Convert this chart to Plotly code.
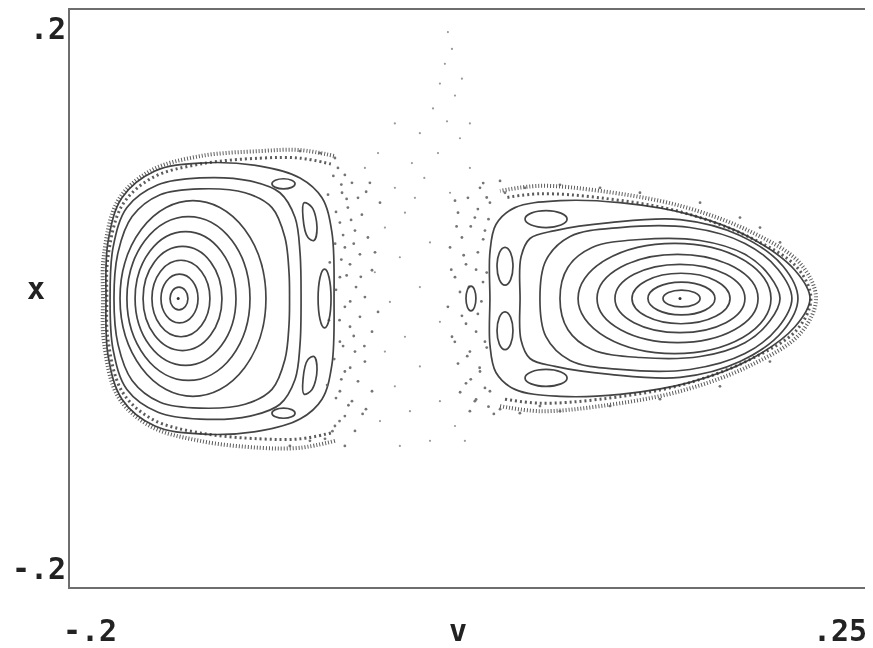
import plotly.graph_objects as go

# ---------------- data (v, x) ----------------
V_RANGE = [-0.2, 0.25]
X_RANGE = [-0.2, 0.2]
xtick_text = ['-.2', '.25']
ytick_text = ['.2', '-.2']
x_title = 'v'
y_title = 'x'

# island centres
centre_v = [-0.139, 0.144]
centre_x = [0.0, 0.0]

# left island: inner invariant curves (v min, v max, x half-height)
left_ring_vmin = [-0.1436, -0.1487, -0.1538, -0.1588, -0.1633, -0.1679, -0.1718]
left_ring_vmax = [-0.1335, -0.1278, -0.1211, -0.1143, -0.1064, -0.0985, -0.0895]
left_ring_xh = [0.0079, 0.0169, 0.0265, 0.0361, 0.0464, 0.0568, 0.0678]

# right island: inner invariant curves
right_ring_vmin = [0.1344, 0.1259, 0.1169, 0.1073, 0.0972, 0.0865]
right_ring_vmax = [0.1553, 0.1637, 0.1722, 0.1806, 0.1880, 0.1953]
right_ring_xh = [0.0058, 0.0114, 0.0175, 0.0237, 0.0306, 0.0382]

# left island outer curves
L8_v = [-0.1752, -0.1729, -0.1650, -0.1492, -0.1267, -0.1013, -0.0861, -0.0788, -0.0765, -0.0762,
        -0.0765, -0.0788, -0.0861, -0.1013, -0.1267, -0.1492, -0.1650, -0.1729, -0.1752]
L8_x = [0.0, 0.0320, 0.0568, 0.0719, 0.0760, 0.0733, 0.0630, 0.0423, 0.0182, 0.0,
        -0.0182, -0.0423, -0.0630, -0.0733, -0.0760, -0.0719, -0.0568, -0.0320, 0.0]
L9_v = [-0.1774, -0.1757, -0.1679, -0.1504, -0.1267, -0.0985, -0.0816, -0.0731, -0.0703, -0.0697,
        -0.0703, -0.0731, -0.0816, -0.0985, -0.1267, -0.1504, -0.1679, -0.1757, -0.1774]
L9_x = [0.0, 0.0354, 0.0630, 0.0788, 0.0836, 0.0815, 0.0733, 0.0561, 0.0320, 0.0,
        -0.0320, -0.0561, -0.0733, -0.0815, -0.0836, -0.0788, -0.0630, -0.0354, 0.0]
L10_v = [-0.1797, -0.1786, -0.1707, -0.1521, -0.1267, -0.0929, -0.0703, -0.0579, -0.0523, -0.0511,
         -0.0523, -0.0579, -0.0703, -0.0929, -0.1267, -0.1521, -0.1707, -0.1786, -0.1797]
L10_x = [0.0, 0.0389, 0.0698, 0.0884, 0.0939, 0.0918, 0.0836, 0.0698, 0.0458, 0.0,
         -0.0458, -0.0698, -0.0836, -0.0918, -0.0939, -0.0884, -0.0698, -0.0389, 0.0]

# right island outer curves
R7_v = [0.0763, 0.0808, 0.0944, 0.1214, 0.1553, 0.1806, 0.1947, 0.2004,
        0.1947, 0.1806, 0.1553, 0.1214, 0.0944, 0.0808, 0.0763]
R7_x = [0.0, 0.0217, 0.0354, 0.0409, 0.0402, 0.0306, 0.0155, 0.0,
        -0.0155, -0.0306, -0.0402, -0.0409, -0.0354, -0.0217, 0.0]
R8_v = [0.0650, 0.0684, 0.0820, 0.1101, 0.1496, 0.1806, 0.1992, 0.2071,
        0.1992, 0.1806, 0.1496, 0.1101, 0.0820, 0.0684, 0.0650]
R8_x = [0.0, 0.0265, 0.0430, 0.0492, 0.0492, 0.0382, 0.0203, 0.0,
        -0.0203, -0.0382, -0.0492, -0.0492, -0.0430, -0.0265, 0.0]
R9_v = [0.0538, 0.0543, 0.0594, 0.0735, 0.1045, 0.1440, 0.1778, 0.2021, 0.2105,
        0.2021, 0.1778, 0.1440, 0.1045, 0.0735, 0.0594, 0.0543, 0.0538]
R9_x = [0.0, 0.0286, 0.0416, 0.0471, 0.0526, 0.0547, 0.0437, 0.0224, 0.0,
        -0.0224, -0.0437, -0.0547, -0.0526, -0.0471, -0.0416, -0.0286, 0.0]
R10_v = [0.0368, 0.0368, 0.0402, 0.0509, 0.0763, 0.1101, 0.1496, 0.1835, 0.2088, 0.2173,
         0.2088, 0.1835, 0.1496, 0.1101, 0.0763, 0.0509, 0.0402, 0.0368, 0.0368]
R10_x = [0.0, 0.0320, 0.0513, 0.0630, 0.0678, 0.0664, 0.0581, 0.0423, 0.0196, 0.0,
         -0.0196, -0.0423, -0.0581, -0.0664, -0.0678, -0.0630, -0.0513, -0.0320, 0.0]

# resonance islands (ellipse bounding boxes): v0, v1, x0, x1
island_v0 = [-0.0601, -0.0861, -0.0861, 0.0408, 0.0408, 0.0566, 0.0566, 0.0233]
island_v1 = [-0.0528, -0.0731, -0.0731, 0.0498, 0.0498, 0.0803, 0.0803, 0.0289]
island_x0 = [-0.0203, 0.0760, -0.0830, 0.0093, -0.0354, 0.0492, -0.0609, -0.0086]
island_x1 = [0.0203, 0.0830, -0.0760, 0.0354, -0.0093, 0.0609, -0.0492, 0.0086]

# slanted islands on the right of the left island
isl_up_v = [-0.0680, -0.0635, -0.0607, -0.0624, -0.0658, -0.0686, -0.0680]
isl_up_x = [0.0664, 0.0630, 0.0492, 0.0402, 0.0423, 0.0561, 0.0664]
isl_dn_v = [-0.0680, -0.0635, -0.0607, -0.0624, -0.0658, -0.0686, -0.0680]
isl_dn_x = [-0.0664, -0.0630, -0.0492, -0.0402, -0.0423, -0.0561, -0.0664]

# chaotic boundary layers
band_L1_v = [-0.0506, -0.0703, -0.0929, -0.1267, -0.1549, -0.1730, -0.1809, -0.1814,
             -0.1809, -0.1730, -0.1549, -0.1267, -0.0929, -0.0703, -0.0506]
band_L1_x = [-0.0987, -0.1035, -0.1035, -0.0987, -0.0884, -0.0678, -0.0299, 0.0,
             0.0299, 0.0678, 0.0884, 0.0987, 0.1022, 0.1029, 0.0987]
band_L2_v = [-0.0529, -0.0703, -0.0929, -0.1267, -0.1538, -0.1707, -0.1786, -0.1792,
             -0.1786, -0.1707, -0.1538, -0.1267, -0.0929, -0.0703, -0.0529]
band_L2_x = [-0.0932, -0.0973, -0.0973, -0.0932, -0.0836, -0.0643, -0.0285, 0.0,
             0.0285, 0.0643, 0.0836, 0.0932, 0.0973, 0.0973, 0.0932]
band_R1_v = [0.0425, 0.0650, 0.0989, 0.1440, 0.1835, 0.2117, 0.2207,
             0.2117, 0.1835, 0.1440, 0.0989, 0.0650, 0.0425]
band_R1_x = [-0.0746, -0.0781, -0.0746, -0.0643, -0.0465, -0.0244, 0.0,
             0.0244, 0.0465, 0.0643, 0.0746, 0.0781, 0.0746]
band_R2_v = [0.0453, 0.0650, 0.0989, 0.1440, 0.1835, 0.2099, 0.2178,
             0.2099, 0.1835, 0.1440, 0.0989, 0.0650, 0.0453]
band_R2_x = [-0.0698, -0.0726, -0.0698, -0.0602, -0.0423, -0.0217, 0.0,
             0.0217, 0.0423, 0.0602, 0.0698, 0.0726, 0.0698]

# sparse chaotic points in the gap between the islands
far_v = [0.0131, 0.0154, 0.0114, 0.0086, 0.0171, 0.0047, 0.0126, -0.0027, 0.0199, 0.0075,
         -0.0072, 0.0255, -0.0002, -0.0168, 0.0143, -0.0111, -0.0224, 0.0030, -0.0140, -0.0281,
         -0.0027, -0.0196, 0.0086, -0.0111, -0.0224, -0.0027, -0.0168, 0.0086, -0.0083, -0.0252,
         0.0171, 0.0030, -0.0140, 0.0227, -0.0055, -0.0263, -0.0337, 0.0255, -0.0168, 0.0210]
far_x = [0.1847, 0.1730, 0.1627, 0.1490, 0.1407, 0.1318, 0.1228, 0.1146, 0.1111, 0.1008,
         0.0939, 0.0905, 0.0836, 0.0767, 0.0733, 0.0595, 0.0492, 0.0389, 0.0286, 0.0182,
         0.0079, -0.0024, -0.0162, -0.0265, -0.0368, -0.0471, -0.0609, -0.0712, -0.0781, -0.0850,
         -0.0884, -0.0987, -0.1022, -0.0987, 0.0698, 0.1008, 0.0905, 0.1214, 0.1214, 0.1524]

# denser chaotic points next to the islands
near_v = [-0.0489, -0.0450, -0.0410, -0.0466, -0.0376, -0.0433, -0.0354, -0.0478, -0.0393, -0.0320,
          -0.0450, -0.0365, -0.0421, -0.0297, -0.0478, -0.0387, -0.0337, -0.0450, -0.0365, -0.0421,
          -0.0297, -0.0478, -0.0393, -0.0337, -0.0450, -0.0376, -0.0478, -0.0410, -0.0331, -0.0450,
          -0.0506, -0.0393, -0.0562, -0.0450, -0.0647, -0.0760, -0.0590, -0.0703, -0.0506, -0.0309,
          -0.0252, -0.0280, -0.0263, -0.0297,
          -0.0515, -0.0470, -0.0440, -0.0500, -0.0415, -0.0460, -0.0505, -0.0400, -0.0470, -0.0440,
          -0.0500, -0.0420, -0.0480, -0.0400, -0.0460, -0.0510, -0.0420, -0.0470, -0.0500, -0.0430,
          -0.0480, -0.0520, -0.0350, -0.0330, -0.0360, -0.0340, -0.0545, -0.0550, -0.0535, -0.0540,
          0.0312, 0.0244, 0.0368, 0.0188, 0.0283, 0.0340, 0.0210, 0.0143, 0.0300, 0.0233,
          0.0171, 0.0329, 0.0199, 0.0131, 0.0300, 0.0233, 0.0154, 0.0340, 0.0255, 0.0188,
          0.0312, 0.0233, 0.0368, 0.0283, 0.0425, 0.0537, 0.0650, 0.0255, 0.0453, 0.0566,
          0.0425, 0.0171,
          0.0350, 0.0300, 0.0260, 0.0330, 0.0220, 0.0290, 0.0350, 0.0250, 0.0320, 0.0210,
          0.0290, 0.0350, 0.0240, 0.0310, 0.0260, 0.0340, 0.0200, 0.0290, 0.0360, 0.0180,
          0.0170, 0.0330, 0.0390, 0.0150, 0.0360,
          0.0763, 0.0989, 0.1214, 0.1553, 0.1778, 0.2004, 0.1891,
          0.0763, 0.1045, 0.1327, 0.1665, 0.1947]
near_x = [0.0905, 0.0857, 0.0802, 0.0733, 0.0698, 0.0630, 0.0581, 0.0526, 0.0471, 0.0423,
          0.0354, 0.0306, 0.0237, 0.0196, 0.0148, 0.0079, 0.0010, -0.0058, -0.0127, -0.0196,
          -0.0230, -0.0299, -0.0368, -0.0437, -0.0506, -0.0574, -0.0643, -0.0712, -0.0767, -0.0815,
          -0.0884, -0.0918, -0.0973, -0.1022, -0.0987, -0.1022, 0.1008, 0.1022, 0.0974, 0.0802,
          0.0664, 0.0320, -0.0093, -0.0643,
          0.0850, 0.0790, 0.0690, 0.0600, 0.0545, 0.0440, 0.0380, 0.0380, 0.0270, 0.0160,
          0.0060, -0.0020, -0.0150, -0.0260, -0.0330, -0.0420, -0.0480, -0.0560, -0.0690, -0.0740,
          -0.0850, -0.0920, -0.0800, 0.0740, 0.0150, -0.0330, 0.0720, -0.0600, 0.0250, -0.0150,
          0.0767, 0.0698, 0.0664, 0.0595, 0.0561, 0.0471, 0.0423, 0.0354, 0.0320, 0.0237,
          0.0148, 0.0114, 0.0045, -0.0058, -0.0107, -0.0175, -0.0265, -0.0299, -0.0368, -0.0451,
          -0.0506, -0.0588, -0.0643, -0.0712, -0.0767, -0.0795, -0.0746, -0.0781, 0.0733, 0.0767,
          0.0815, 0.0678,
          0.0700, 0.0620, 0.0500, 0.0410, 0.0300, 0.0200, 0.0180, 0.0080, -0.0020, -0.0120,
          -0.0230, -0.0340, -0.0400, -0.0480, -0.0560, -0.0620, -0.0650, -0.0700, -0.0750, 0.0500,
          -0.0300, 0.0800, -0.0800, 0.0200, 0.0550,
          0.0788, 0.0767, 0.0733, 0.0664, 0.0561, 0.0389, 0.0492,
          -0.0781, -0.0746, -0.0698, -0.0609, -0.0437]

# ---------------- figure ----------------
LINE = '#444444'
LW = 1.7

fig = go.Figure()

curves = [(L8_v, L8_x), (L9_v, L9_x), (L10_v, L10_x),
          (R7_v, R7_x), (R8_v, R8_x), (R9_v, R9_x), (R10_v, R10_x),
          (isl_up_v, isl_up_x), (isl_dn_v, isl_dn_x)]
for cv, cx in curves:
    fig.add_trace(go.Scatter(x=cv, y=cx, mode='lines',
                             line=dict(color=LINE, width=LW, shape='spline', smoothing=1.0),
                             hoverinfo='skip', showlegend=False))

bands = [(band_L1_v, band_L1_x, '1px,2px', 4.0), (band_L2_v, band_L2_x, '2px,3px', 3.0),
         (band_R1_v, band_R1_x, '1px,2px', 4.0), (band_R2_v, band_R2_x, '2px,3px', 3.0)]
for bv, bx, dash, w in bands:
    fig.add_trace(go.Scatter(x=bv, y=bx, mode='lines',
                             line=dict(color='#333333', width=w, dash=dash, shape='spline', smoothing=1.0),
                             opacity=0.8, hoverinfo='skip', showlegend=False))

fig.add_trace(go.Scatter(x=far_v, y=far_x, mode='markers',
                         marker=dict(color='#9a9a9a', size=2.2, line=dict(width=0)),
                         hoverinfo='skip', showlegend=False))
fig.add_trace(go.Scatter(x=near_v, y=near_x, mode='markers',
                         marker=dict(color='#666666', size=2.8, line=dict(width=0)),
                         opacity=0.9, hoverinfo='skip', showlegend=False))
fig.add_trace(go.Scatter(x=centre_v, y=centre_x, mode='markers',
                         marker=dict(color='#333333', size=3, line=dict(width=0)),
                         hoverinfo='skip', showlegend=False))

shapes = []
for v0, v1, xh in zip(left_ring_vmin, left_ring_vmax, left_ring_xh):
    shapes.append(dict(type='circle', xref='x', yref='y', x0=v0, x1=v1, y0=-xh, y1=xh,
                       line=dict(color=LINE, width=LW)))
for v0, v1, xh in zip(right_ring_vmin, right_ring_vmax, right_ring_xh):
    shapes.append(dict(type='circle', xref='x', yref='y', x0=v0, x1=v1, y0=-xh, y1=xh,
                       line=dict(color=LINE, width=LW)))
for v0, v1, y0, y1 in zip(island_v0, island_v1, island_x0, island_x1):
    shapes.append(dict(type='circle', xref='x', yref='y', x0=v0, x1=v1, y0=y0, y1=y1,
                       line=dict(color=LINE, width=LW)))

FONT = dict(family='DejaVu Sans Mono', size=30, color='#222222', weight='bold')
annotations = [
    dict(text=ytick_text[0], xref='paper', yref='paper', x=0, y=1, xanchor='right', yanchor='top',
         xshift=-3, yshift=0, borderpad=0, showarrow=False, font=FONT),
    dict(text=ytick_text[1], xref='paper', yref='paper', x=0, y=0, xanchor='right', yanchor='middle',
         xshift=-3, yshift=19, borderpad=0, showarrow=False, font=FONT),
    dict(text=xtick_text[0], xref='paper', yref='paper', x=0, y=0, xanchor='center', yanchor='middle',
         xshift=20, yshift=-43, showarrow=False, font=FONT),
    dict(text=xtick_text[1], xref='paper', yref='paper', x=1, y=0, xanchor='right', yanchor='middle',
         xshift=0, yshift=-43, borderpad=0, showarrow=False, font=FONT),
    dict(text=x_title, xref='paper', yref='paper', x=0.486, y=0, xanchor='center', yanchor='middle',
         yshift=-43, showarrow=False, font=FONT),
    dict(text=y_title, xref='paper', yref='paper', x=0, y=0.518, xanchor='center', yanchor='middle',
         xshift=-34, showarrow=False, font=FONT),
]

# the page adds an 8 px body margin, so the figure is sized to fit inside it
fig.update_layout(
    width=865, height=640,
    margin=dict(l=62, r=5, t=0, b=61),
    paper_bgcolor='white', plot_bgcolor='white',
    shapes=shapes, annotations=annotations,
    xaxis=dict(range=V_RANGE, showgrid=False, zeroline=False, showticklabels=False, ticks='',
               showline=True, mirror=True, linecolor='#6e6e6e', linewidth=2),
    yaxis=dict(range=X_RANGE, showgrid=False, zeroline=False, showticklabels=False, ticks='',
               showline=True, mirror=True, linecolor='#6e6e6e', linewidth=2),
)

fig.write_html('out.html')
